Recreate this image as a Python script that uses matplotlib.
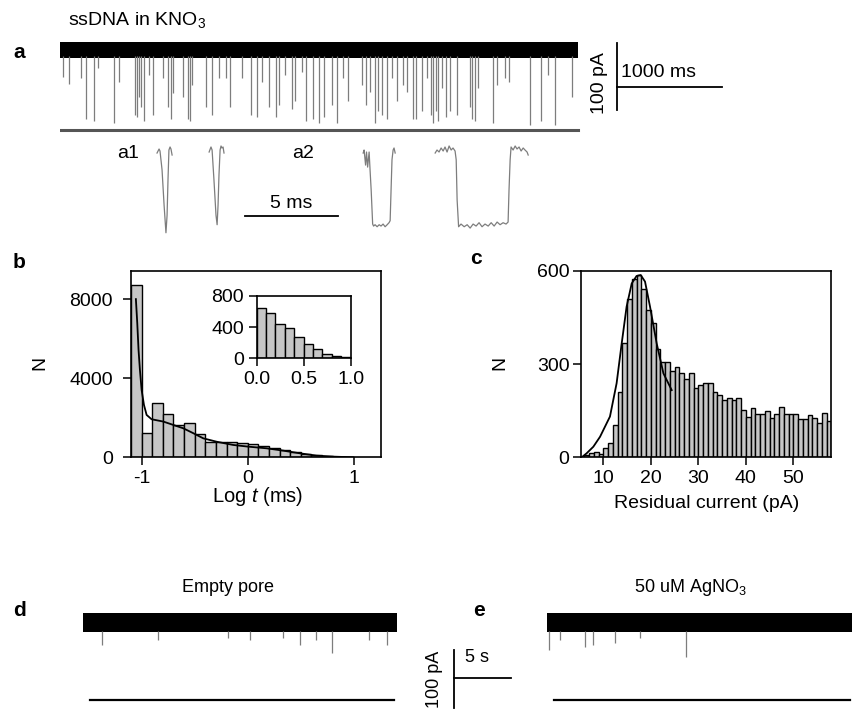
import matplotlib
matplotlib.use("Agg")
import matplotlib.pyplot as plt
import numpy as np

plt.rcParams['font.family'] = ['Liberation Sans', 'DejaVu Sans']
plt.rcParams['mathtext.fontset'] = 'custom'
plt.rcParams['mathtext.rm'] = 'Liberation Sans'
plt.rcParams['mathtext.it'] = 'Liberation Sans:italic'
plt.rcParams['axes.unicode_minus'] = False

# ---------------- data ----------------
# panel a: long trace, event times (ms) and blockade depth (pA)
a_len_ms = 4933
a_band_pA = 12
a_spike_t = [31, 86, 200, 245, 327, 365, 511, 565, 714, 733, 752, 771, 797, 850, 883,
             984, 1031, 1057, 1079, 1169, 1222, 1241, 1260, 1388, 1445, 1517, 1578, 1619,
             1730, 1816, 1879, 1921, 1993, 2057, 2086, 2143, 2207, 2238, 2302, 2343, 2412,
             2470, 2517, 2588, 2635, 2698, 2746, 2873, 2914, 2952, 3003, 3031, 3064, 3111,
             3159, 3207, 3270, 3302, 3365, 3388, 3445, 3492, 3533, 3555, 3578, 3603, 3635,
             3673, 3714, 3778, 3905, 3921, 3952, 3984, 4127, 4159, 4238, 4276, 4476, 4581,
             4650, 4714, 4879]
a_spike_depth = [41, 51, 43, 105, 108, 28, 111, 49, 98, 101, 72, 87, 107, 38, 98,
                 43, 87, 105, 65, 72, 105, 108, 53, 87, 99, 43, 43, 86,
                 43, 98, 101, 49, 86, 102, 83, 38, 90, 78, 34, 107, 105,
                 110, 102, 83, 110, 43, 78, 53, 83, 63, 110, 93, 98, 105,
                 43, 78, 53, 63, 105, 105, 93, 43, 98, 110, 93, 108, 57,
                 101, 93, 98, 87, 105, 108, 57, 110, 53, 43, 49, 113, 108,
                 38, 113, 71]
a_floor_pA = -121

# panel a1 / a2: single events (ms, pA)
ev1_t = [4.14, 4.25, 4.30, 4.41, 4.52, 4.62, 4.68, 4.73, 4.78, 4.84, 4.89, 4.95]
ev1_i = [-3, 3, 0, -28, -81, -122, -96, -43, 1.5, 6, 3, -6]
ev2_t = [6.94, 7.04, 7.10, 7.20, 7.31, 7.37, 7.42, 7.47, 7.53, 7.58, 7.63, 7.69, 7.74]
ev2_i = [-1.5, 6, 1.5, -43, -96, -110, -81, -36, 1.5, 7.5, 4.5, 6, -3]
ev3_t = [15.22, 15.27, 15.35, 15.40, 15.46, 15.54, 15.59, 15.65, 15.73, 15.78, 15.86, 15.97,
         16.08, 16.18, 16.29, 16.40, 16.51, 16.61, 16.67, 16.72, 16.77, 16.83, 16.88, 16.94]
ev3_i = [-3, 1.5, -21, -1.5, -24, -1.5, -28, -58, -109, -112, -110, -113,
         -110, -112, -109, -113, -110, -107, -104, -58, -13, 1.5, 4.5, -3]
ev4_t = [19.09, 19.19, 19.30, 19.41, 19.52, 19.62, 19.73, 19.84, 19.95, 20.05, 20.16, 20.22,
         20.27, 20.35, 20.48, 20.65, 20.81, 20.97, 21.13, 21.29, 21.45, 21.61, 21.77, 21.94,
         22.10, 22.26, 22.42, 22.58, 22.74, 22.90, 23.01, 23.06, 23.12, 23.17, 23.28, 23.39,
         23.49, 23.60, 23.71, 23.82, 23.92, 24.03, 24.09]
ev4_i = [-3, 1.5, -1.5, 4.5, 0, 6, -1.5, 7.5, 1.5, 4.5, 0, -13,
         -73, -113, -109, -113, -110, -115, -109, -112, -107, -113, -109, -112,
         -107, -112, -106, -110, -107, -109, -106, -58, -13, 6, 1.5, 7.5,
         3, 6, 0, 4.5, 1.5, -1.5, -6]

# panel b: dwell time histogram (log10 ms)
b_edges = [round(-1.1 + 0.1 * k, 2) for k in range(22)]
b_counts = [8750, 1250, 2740, 2200, 1640, 1760, 1170, 780, 800, 760, 720,
            650, 560, 460, 370, 270, 180, 100, 45, 15, 5]
b_fit_x = [-1.054, -1.041, -1.029, -1.016, -1.000, -0.978, -0.953, -0.906, -0.796, -0.702,
           -0.608, -0.513, -0.419, -0.294, -0.137, 0.004, 0.176, 0.333, 0.49, 0.647, 0.804, 0.99]
b_fit_y = [8011, 6794, 5442, 4428, 3414, 2653, 2146, 1927, 1810, 1640,
           1470, 1220, 960, 790, 625, 540, 456, 338, 203, 85, 34, 0]
inset_edges = [round(0.1 * k, 1) for k in range(11)]
inset_counts = [647, 574, 438, 391, 268, 183, 119, 55, 30, 13]

# panel c: residual current histogram (pA)
c_edges = list(range(6, 59))
c_counts = [7, 15, 18, 10, 29, 47, 104, 211, 368, 508, 572, 586, 540, 474,
            433, 347, 307, 307, 279, 289, 272, 251, 272, 222, 232, 238, 238, 211,
            200, 184, 190, 184, 190, 152, 129, 157, 139, 139, 150, 125, 139, 161,
            139, 139, 139, 122, 122, 136, 125, 111, 141, 118]
c_fit_x = [5.45, 6.5, 7.9, 9.31, 11.4, 12.8, 13.87, 14.9, 15.98, 17.0, 17.87, 18.78,
           19.84, 21.24, 22.65, 24.4]
c_fit_y = [0, 13, 34, 66, 131, 238, 366, 484, 559, 583, 586, 565,
           484, 366, 270, 216]

# panels d / e: long traces (s, pA)
d_len_s = 27.5
e_len_s = 26.8
de_band_pA = 16
de_floor_pA = -134
d_spike_t = [1.64, 6.58, 12.72, 14.65, 17.54, 19.04, 20.44, 21.82, 25.09, 26.64]
d_spike_depth = [38.8, 30.2, 26.7, 30.2, 26.7, 38.8, 30.2, 52.1, 30.2, 38.8]
e_spike_t = [0.18, 1.14, 3.33, 4.04, 5.96, 8.16, 12.19]
e_spike_depth = [47.4, 30.2, 42.2, 38.8, 35.3, 26.7, 59.5]

# ---------------- figure ----------------
W, H = 853, 709
fig = plt.figure(figsize=(W / 100, H / 100), dpi=100)


def px_axes(x0, y0, x1, y1):
    return fig.add_axes([x0 / W, 1 - y1 / H, (x1 - x0) / W, (y1 - y0) / H])


def px_text(x, y, s, **kw):
    fig.text(x / W, 1 - y / H, s, **kw)


bar_kw = dict(align='edge', color='#c6c6c6', edgecolor='black', linewidth=1.0)
trace_grey = '#7d7d7d'

# ---- panel a trace ----
ax = px_axes(60, 38, 722, 134)
ax.set_xlim(0, 6305)
ax.set_ylim(-127, 17.6)
ax.axis('off')
ax.vlines(a_spike_t, -np.array(a_spike_depth), -a_band_pA + 2, color=trace_grey, lw=0.9)
ax.fill_between([0, a_len_ms], -a_band_pA, a_band_pA, color='black', lw=0)
ax.plot([0, a_len_ms], [a_floor_pA, a_floor_pA], color='#555555', lw=2.2)
# scale bar
ax.plot([5305, 5305], [9.7, -90.3], color='black', lw=1.3, clip_on=False)
ax.plot([5305, 6305], [-56, -56], color='black', lw=1.3, clip_on=False)
ax.text(5345, -34, '1000 ms', fontsize=14, va='center', ha='left')
ax.text(5140, -50, '100 pA', fontsize=14, va='center', ha='center', rotation=90)

# ---- panel a1/a2 events ----
ax = px_axes(80, 135, 560, 240)
ax.set_xlim(0, 25.8)
ax.set_ylim(-132.8, 23.9)
ax.axis('off')
for tt, ii in [(ev1_t, ev1_i), (ev2_t, ev2_i), (ev3_t, ev3_i), (ev4_t, ev4_i)]:
    ax.plot(tt, ii, color=trace_grey, lw=0.9)
ax.plot([8.87, 13.87], [-97, -97], color='black', lw=1.3)
ax.text(11.34, -79, '5 ms', fontsize=14, ha='center', va='center')
ax.text(2.58, -3, 'a1', fontsize=14, ha='center', va='center')
ax.text(12.0, -3, 'a2', fontsize=14, ha='center', va='center')

px_text(68, 20, 'ssDNA in KNO$_3$', fontsize=14, va='center', ha='left')
for lab, x, y in [('a', 19, 52), ('b', 19, 262), ('c', 476, 258), ('d', 19, 610), ('e', 479, 610)]:
    px_text(x, y, lab, fontsize=15, fontweight='bold', ha='center', va='center')

# ---- panel b ----
ax = px_axes(131, 270.7, 381, 457.3)
ax.bar(b_edges[:-1], b_counts, width=0.1, **bar_kw)
ax.plot(b_fit_x, b_fit_y, color='black', lw=1.3)
ax.set_xlim(-1.10, 1.255)
ax.set_ylim(0, 9450)
ax.set_xticks([-1, 0, 1])
ax.set_yticks([0, 4000, 8000])
ax.tick_params(direction='out', length=6, width=1.1, labelsize=14, pad=3)
ax.tick_params(axis='y', pad=7)
for s in ax.spines.values():
    s.set_linewidth(1.2)
px_text(40, 363, 'N', fontsize=14, rotation=90, ha='center', va='center')
px_text(258, 497, 'Log $t$ (ms)', fontsize=14.5, ha='center', va='center')

ins = px_axes(256.7, 295.7, 350.7, 358.3)
ins.bar(inset_edges[:-1], inset_counts, width=0.1, **bar_kw)
ins.set_xlim(0, 1.0)
ins.set_ylim(0, 800)
ins.set_xticks([0, 0.5, 1.0])
ins.set_xticklabels(['0.0', '0.5', '1.0'])
ins.set_yticks([0, 400, 800])
ins.tick_params(direction='out', length=6, width=1.1, labelsize=14, pad=3)
for s in ins.spines.values():
    s.set_linewidth(1.2)

# ---- panel c ----
ax = px_axes(580.7, 270.7, 830.7, 457.3)
ax.bar(c_edges[:-1], c_counts, width=1, **bar_kw)
ax.plot(c_fit_x, c_fit_y, color='black', lw=1.3)
ax.set_xlim(5.24, 57.87)
ax.set_ylim(0, 600)
ax.set_xticks([10, 20, 30, 40, 50])
ax.set_yticks([0, 300, 600])
ax.tick_params(direction='out', length=6, width=1.1, labelsize=14, pad=3)
ax.tick_params(axis='y', pad=2)
for s in ax.spines.values():
    s.set_linewidth(1.2)
px_text(500, 363, 'N', fontsize=14, rotation=90, ha='center', va='center')
px_text(707, 503, 'Residual current (pA)', fontsize=14, ha='center', va='center')

# ---- panels d / e ----
for x0, x1, length, st, sd, title, tx in [
        (83, 397, d_len_s, d_spike_t, d_spike_depth, 'Empty pore', 228),
        (547, 853, e_len_s, e_spike_t, e_spike_depth, '50 uM AgNO$_3$', 690)]:
    ax = px_axes(x0, 600, x1, 705)
    ax.set_xlim(0, (x1 - x0) / 11.4)
    ax.set_ylim(-142.2, 38.8)
    ax.axis('off')
    ax.vlines(st, -np.array(sd), -de_band_pA + 2, color=trace_grey, lw=0.9)
    ax.fill_between([0, length], -de_band_pA, de_band_pA, color='black', lw=0)
    ax.plot([0.6, length - 0.2], [de_floor_pA, de_floor_pA], color='black', lw=1.6)
    px_text(tx, 588, title, fontsize=13, ha='center', va='center')
    if x0 == 83:
        ax.plot([32.5, 32.5], [-47.4, -147.4], color='black', lw=1.3, clip_on=False)
        ax.plot([32.5, 37.5], [-95.7, -95.7], color='black', lw=1.3, clip_on=False)
        ax.text(34.6, -59.5, '5 s', fontsize=13, ha='center', va='center')
        ax.text(30.8, -97.4, '100 pA', fontsize=13, ha='center', va='center', rotation=90)

fig.savefig('out.png', dpi=100)
